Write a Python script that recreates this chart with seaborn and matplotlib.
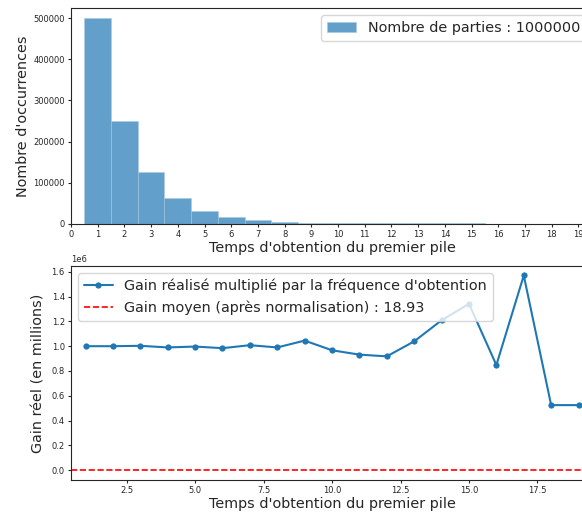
import matplotlib
matplotlib.use("Agg")
import matplotlib.pyplot as plt
import seaborn as sns

# Data
temps = list(range(1, 20))
occurrences = [500000, 250000, 125000, 62000, 31000, 15500, 7800, 3900, 1950,
               980, 490, 245, 122, 61, 30, 15, 8, 4, 2]
gains = [1.000e6, 1.000e6, 1.003e6, 0.990e6, 0.997e6, 0.984e6, 1.008e6, 0.990e6,
         1.045e6, 0.967e6, 0.932e6, 0.918e6, 1.039e6, 1.209e6, 1.341e6, 0.848e6,
         1.570e6, 0.525e6, 0.525e6]
nb_parties = 1000000
gain_moyen = 18.93

sns.set_style("ticks")
plt.rcParams['font.family'] = ['DejaVu Sans']

fig = plt.figure(figsize=(5.82, 5.15), dpi=100)
ax1 = fig.add_axes([0.122, 0.566, 0.897, 0.418])
ax2 = fig.add_axes([0.122, 0.068, 0.897, 0.416])

# Histogram
sns.histplot(x=temps, weights=occurrences, discrete=True, ax=ax1, color='C0',
             alpha=0.7, edgecolor='#a9c9e3', linewidth=0.4)
ax1.set_xlim(0, 19.55)
ax1.set_xticks(range(0, 20))
ax1.set_xlabel("Temps d'obtention du premier pile", fontsize=10.4, labelpad=1.5)
ax1.set_ylabel("Nombre d'occurrences", fontsize=10.4, labelpad=2)
ax1.tick_params(labelsize=6, length=2.5, pad=2)
ax1.legend([ax1.containers[0]], ["Nombre de parties : %d" % nb_parties],
           loc='upper right', fontsize=10.4)

# Gain curve
sns.lineplot(x=temps, y=gains, marker='o', color='C0', markersize=4.5,
             markeredgewidth=0, ax=ax2,
             label="Gain réalisé multiplié par la fréquence d'obtention")
ax2.axhline(0, color='red', linestyle='--', linewidth=1.2,
            label="Gain moyen (après normalisation) : %.2f" % gain_moyen)
ax2.set_xlim(0.47, 19.53)
ax2.set_xlabel("Temps d'obtention du premier pile", fontsize=10.4, labelpad=1.5)
ax2.set_ylabel("Gain réel (en millions)", fontsize=10.4, labelpad=4)
ax2.tick_params(labelsize=6, length=2.5, pad=2)
ax2.yaxis.get_offset_text().set_fontsize(6)
ax2.legend(loc='upper left', fontsize=10.4)

fig.savefig("out.png", dpi=100)
